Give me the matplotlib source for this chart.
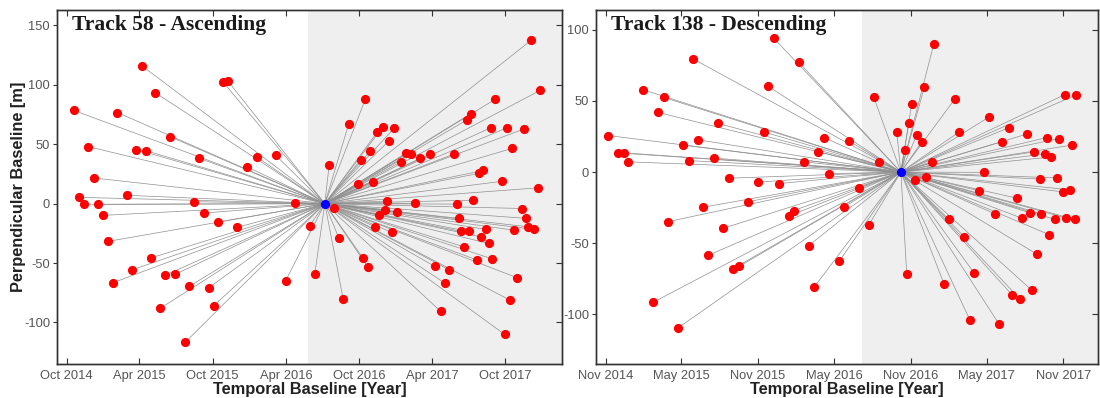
import matplotlib
matplotlib.use('Agg')
import matplotlib.pyplot as plt
import matplotlib.dates as mdates
import numpy as np

# temporal baseline [days from master] and perpendicular baseline [m]
asc_master = '2016-07-07'
asc_shade_start = '2016-05-27'
asc_dt = [-626, -457, -423, -518, -254, -242, -387, -591, -471, -447,
          -314, -169, -123, -194, -577, -614, -493, -327, -602, -566,
          -74, -554, -302, -267, -219, -542, -433, -482, -530, -398,
          -373, -338, -289, -98, -411, -278, -348, -38, -25,
          515, 538, 425, 101, 60, 365, 354, 145, 131, 174,
          160, 414, 455, 498, 114, 90, 204, 215, 191, 239,
          264, 323, 468, 11, 82, 120, 395, 384, 443, 533,
          155, 226, 330, 370, 23, 151, 180, 136, 493, 503,
          335, 126, 167, 340, 360, 403, 473, 508, 523, 389,
          409, 35, 348, 379, 418, 95, 107, 275, 311, 299,
          479, 46, 463, 289, 449]
asc_bp = [78.4, 116.1, 93.3, 76.7, 102.3, 103.2, 56.4, 48.0, 45.5, 44.6,
          38.2, 39.1, 40.8, 30.9, 21.6, 5.3, 7.0, 1.6, -0.6, -0.6,
          0.5, -9.9, -7.9, -15.5, -20.0, -31.8, -45.6, -55.8, -66.7, -60.2,
          -59.4, -69.5, -70.6, -65.0, -88.1, -86.1, -116.5, -18.6, -59.1,
          137.4, 95.3, 87.7, 87.7, 67.4, 75.8, 70.3, 64.6, 60.2, 63.8,
          52.8, 63.8, 63.8, 62.9, 44.6, 37.0, 42.7, 41.8, 35.4, 38.2,
          41.8, 41.8, 46.5, 32.8, 16.3, 18.0, 27.9, 25.4, 18.8, 13.3,
          2.2, 0.3, -0.4, 2.9, -3.9, -5.0, -6.8, -9.8, -4.1, -12.4,
          -12.4, -19.6, -24.2, -23.4, -23.4, -21.7, -22.4, -19.5, -21.7, -27.9,
          -33.5, -28.9, -36.4, -47.3, -46.5, -45.6, -53.2, -52.9, -55.8, -66.7,
          -62.2, -80.5, -81.3, -90.6, -110.0]

desc_master = '2016-10-08'
desc_shade_start = '2016-07-06'
desc_dt = [-304, -244, -497, -317, -617, -568, -581, -438, -327, -701,
           -521, -485, -184, -125, -198, -677, -663, -654, -508, -448,
           -232, -172, -411, -341, -292, -365, -473, -558, -257, -268,
           -137, -425, -461, -221, -402, -387, -147, -208, -593, -533,
           -77, -52, -101, -65, -10,
           79, 56, 26, 129, 19, 38, 50, 139, 212, 259,
           301, 241, 350, 378, 410, 319, 345, 360, 392, 420,
           9, 74, 199, 332, 373, 33, 61, 188, 387, 404,
           277, 225, 290, 308, 336, 369, 396, 416, 115, 152,
           355, 326, 175, 14, 103, 266, 285, 313, 165, 235]
desc_bp = [94.0, 77.1, 79.5, 60.2, 57.9, 52.5, 41.9, 34.2, 28.1, 25.7,
           18.9, 22.7, 24.3, 22.0, 14.2, 13.5, 13.5, 7.2, 8.1, 9.8,
           7.2, -1.1, -4.3, -7.1, -8.1, -20.8, -24.7, -34.9, -27.1, -30.8,
           -24.7, -39.5, -58.5, -51.8, -68.0, -66.3, -62.5, -81.1, -91.6, -109.5,
           -37.2, 7.4, -10.9, 52.7, 28.1,
           90.3, 59.5, 48.0, 51.3, 34.4, 26.0, 21.3, 28.1, 38.9, 31.3,
           26.7, 21.3, 24.3, 23.6, 19.0, 14.2, 12.8, 10.6, 54.4, 54.4,
           15.8, 7.4, -0.2, -4.9, -4.1, -5.6, -3.2, -13.2, -13.9, -12.5,
           -18.3, -29.4, -32.5, -28.6, -29.4, -33.3, -32.4, -33.3, -33.3, -45.6,
           -44.0, -57.8, -70.8, -71.7, -78.5, -86.3, -89.3, -83.0, -103.9, -106.9]

plt.rcParams['font.family'] = ['Liberation Sans', 'DejaVu Sans']
plt.rcParams['axes.unicode_minus'] = False

fig = plt.figure(figsize=(11, 3.98), dpi=100)
ax1 = fig.add_axes([0.0518, 0.0854, 0.4593, 0.8895])
ax2 = fig.add_axes([0.5418, 0.0854, 0.4564, 0.8895])


def draw_panel(ax, master, shade_start, dt, bp, xlim, ylim, title, months):
    m = np.datetime64(master)
    dates = m + np.array(dt).astype('timedelta64[D]')
    ax.axvspan(np.datetime64(shade_start), np.datetime64(xlim[1]),
               color='#efefef', lw=0, zorder=0)
    # lines from master to every slave
    for d, b in zip(dates, bp):
        ax.plot([m, d], [0, b], c='#909090', lw=0.5, zorder=1)
    ax.plot(dates, bp, ls='none', marker='o', markersize=5.6,
            markerfacecolor='red', markeredgecolor='red', zorder=3)
    ax.plot([m], [0], ls='none', marker='o', markersize=5.6,
            markerfacecolor='blue', markeredgecolor='blue', zorder=4)
    ax.set_xlim(np.datetime64(xlim[0]), np.datetime64(xlim[1]))
    ax.set_ylim(ylim)
    ax.xaxis.set_major_locator(mdates.MonthLocator(bymonth=months, bymonthday=1))
    ax.xaxis.set_major_formatter(mdates.DateFormatter('%b %Y'))
    ax.tick_params(axis='x', direction='in', top=True, length=4,
                   color='#333333', labelsize=9.3, labelcolor='#555555', pad=4)
    ax.tick_params(axis='y', direction='out', length=3,
                   color='#333333', labelsize=9.3, labelcolor='#555555', pad=2)
    # inward ticks on the right spine
    tw = ax.twinx()
    tw.set_ylim(ylim)
    tw.set_yticks(ax.get_yticks())
    tw.set_ylim(ylim)
    tw.tick_params(axis='y', direction='in', length=4, color='#333333',
                   labelright=False)
    for a in (ax, tw):
        for s in a.spines.values():
            s.set_color('#333333')
            s.set_linewidth(1.0)
    ax.text(0.03, 0.985, title, transform=ax.transAxes, ha='left', va='top',
            fontsize=15.5, fontweight='bold', family='Liberation Serif',
            color='#1a1a1a', zorder=5)
    ax.set_xlabel('Temporal Baseline [Year]', fontsize=11.8, fontweight='bold',
                  color='#222222', labelpad=0)


draw_panel(ax1, asc_master, asc_shade_start, asc_dt, asc_bp,
           ('2014-09-07', '2018-02-20'), (-135, 163),
           'Track 58 - Ascending', (4, 10))
ax1.set_ylabel('Perpendicular Baseline [m]', fontsize=11.8, fontweight='bold',
               color='#222222')
ax1.yaxis.set_label_coords(-0.062, 0.5)

draw_panel(ax2, desc_master, desc_shade_start, desc_dt, desc_bp,
           ('2014-10-09', '2018-01-23'), (-135, 114),
           'Track 138 - Descending', (5, 11))

fig.savefig('out.png', dpi=100)
